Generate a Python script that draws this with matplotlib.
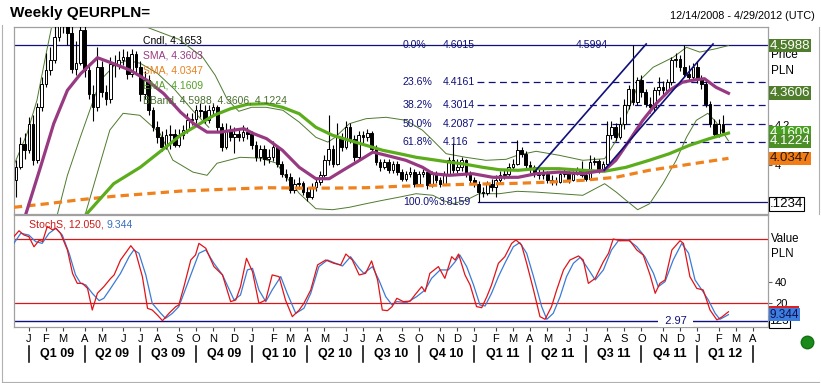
import numpy as np
import pandas as pd
import matplotlib
matplotlib.use('Agg')
import matplotlib.pyplot as plt
import matplotlib.transforms as mtransforms
from matplotlib.lines import Line2D
from matplotlib.patches import Rectangle

plt.rcParams['font.family'] = ['Liberation Sans', 'DejaVu Sans']

W, H = 821, 383
start = pd.Timestamp('2008-12-14')   # first weekly bar

# weekly closes / highs / lows (EUR/PLN)
close = [3.99, 4.108, 4.075, 4.208, 4.025, 4.29, 4.408, 4.475, 4.525, 4.64,
         4.70, 4.72, 4.66, 4.483, 4.51, 4.675, 4.475, 4.358, 4.29, 4.49,
         4.366, 4.33, 4.508, 4.50, 4.525, 4.54, 4.458, 4.558, 4.49, 4.358,
         4.425, 4.275, 4.19, 4.14, 4.09, 4.15, 4.158, 4.10, 4.15, 4.175,
         4.225, 4.23, 4.275, 4.27, 4.225, 4.275, 4.29, 4.19, 4.09, 4.175,
         4.14, 4.158, 4.14, 4.166, 4.158, 4.10, 4.04, 4.083, 4.033, 4.04,
         4.09, 4.008, 3.958, 3.94, 3.875, 3.908, 3.91, 3.866, 3.84, 3.89,
         3.916, 3.95, 4.025, 4.083, 4.008, 4.14, 4.09, 4.19, 4.13, 4.04,
         4.15, 4.14, 4.16, 4.083, 4.016, 3.99, 4.016, 3.975, 4.008, 3.966,
         3.933, 3.958, 3.966, 3.908, 3.958, 3.966, 3.90, 3.958, 3.925, 3.908,
         3.958, 4.025, 3.975, 3.99, 4.025, 3.958, 3.925, 3.908, 3.866, 3.86,
         3.908, 3.89, 3.925, 3.95, 3.958, 3.99, 4.008, 4.075, 4.058, 4.0,
         3.99, 3.958, 3.95, 3.958, 3.925, 3.92, 3.916, 3.958, 3.96, 3.925,
         3.958, 3.975, 3.95, 3.933, 4.016, 4.02, 3.975, 4.008, 4.15, 4.19,
         4.14, 4.208, 4.30, 4.383, 4.316, 4.425, 4.366, 4.308, 4.29, 4.375,
         4.39, 4.375, 4.416, 4.525, 4.533, 4.49, 4.458, 4.44, 4.49, 4.433,
         4.408, 4.308, 4.208, 4.158, 4.208, 4.1653]
high = [4.025, 4.14, 4.16, 4.24, 4.25, 4.31, 4.44, 4.56, 4.59, 4.75,
        4.80, 4.90, 4.78, 4.70, 4.62, 4.72, 4.70, 4.51, 4.40, 4.59,
        4.52, 4.40, 4.54, 4.55, 4.57, 4.58, 4.57, 4.58, 4.57, 4.52,
        4.47, 4.45, 4.29, 4.22, 4.17, 4.18, 4.20, 4.18, 4.18, 4.20,
        4.26, 4.26, 4.30, 4.31, 4.30, 4.30, 4.31, 4.30, 4.21, 4.21,
        4.20, 4.19, 4.18, 4.20, 4.19, 4.17, 4.12, 4.10, 4.10, 4.08,
        4.12, 4.10, 4.02, 3.98, 3.96, 3.93, 3.94, 3.92, 3.89, 3.91,
        3.94, 3.97, 4.05, 4.25, 4.10, 4.21, 4.16, 4.22, 4.21, 4.15,
        4.17, 4.17, 4.18, 4.17, 4.10, 4.03, 4.03, 4.03, 4.02, 4.02,
        3.98, 3.97, 3.99, 3.98, 3.97, 3.98, 3.98, 3.97, 3.97, 3.94,
        3.97, 4.04, 4.11, 4.03, 4.04, 4.03, 3.97, 3.94, 3.92, 3.89,
        3.92, 3.93, 3.95, 3.97, 3.98, 4.01, 4.03, 4.125, 4.09, 4.07,
        4.02, 4.0, 3.98, 3.98, 3.97, 3.95, 3.94, 3.97, 3.98, 3.97,
        3.97, 3.99, 4.02, 3.96, 4.05, 4.04, 4.03, 4.02, 4.22, 4.22,
        4.21, 4.24, 4.33, 4.40, 4.5994, 4.44, 4.45, 4.38, 4.34, 4.39,
        4.44, 4.42, 4.43, 4.54, 4.56, 4.55, 4.6015, 4.50, 4.51, 4.52,
        4.45, 4.42, 4.32, 4.23, 4.23, 4.25]
low = [3.84, 3.98, 4.03, 4.06, 4.0, 4.01, 4.27, 4.39, 4.45, 4.51,
       4.62, 4.66, 4.60, 4.46, 4.45, 4.50, 4.44, 4.33, 4.22, 4.27,
       4.34, 4.30, 4.31, 4.44, 4.48, 4.50, 4.43, 4.44, 4.46, 4.32,
       4.33, 4.25, 4.17, 4.11, 4.07, 4.08, 4.08, 4.09, 4.09, 4.13,
       4.16, 4.20, 4.21, 4.24, 4.21, 4.21, 4.25, 4.17, 4.07, 4.08,
       4.12, 4.06, 4.12, 4.12, 4.13, 4.08, 4.02, 4.02, 4.00, 4.01,
       4.02, 3.99, 3.94, 3.92, 3.86, 3.86, 3.88, 3.85, 3.82, 3.83,
       3.87, 3.90, 3.94, 4.00, 3.99, 4.00, 4.07, 4.08, 4.11, 4.02,
       4.03, 4.11, 4.12, 4.07, 4.00, 3.97, 3.98, 3.96, 3.96, 3.95,
       3.92, 3.92, 3.94, 3.89, 3.90, 3.94, 3.88, 3.89, 3.91, 3.89,
       3.90, 3.95, 3.96, 3.96, 3.97, 3.94, 3.91, 3.89, 3.8159, 3.84,
       3.85, 3.87, 3.84, 3.91, 3.93, 3.94, 3.98, 4.00, 4.04, 3.98,
       3.96, 3.94, 3.93, 3.93, 3.91, 3.90, 3.90, 3.91, 3.94, 3.91,
       3.92, 3.95, 3.94, 3.92, 3.93, 4.0, 3.96, 3.97, 4.0, 4.13,
       4.12, 4.13, 4.18, 4.28, 4.30, 4.30, 4.34, 4.29, 4.26, 4.27,
       4.35, 4.35, 4.36, 4.40, 4.49, 4.47, 4.44, 4.42, 4.43, 4.41,
       4.38, 4.29, 4.19, 4.14, 4.14, 4.15]

# indicator lines (week index, value)
sma_x = [-0.5, 2.2, 5.7, 8.8, 12, 15.1, 19, 22.8, 26.7, 30.6, 34.5, 38.4, 41.5, 44.6,
         47.7, 53.2, 55.5, 58.5, 62.2, 66.1, 70, 73.1, 76.3, 80.2, 83.3, 86.4, 91,
         94.9, 97.3, 101.1, 106.6, 111.3, 117.2, 121.4, 126.8, 132.3, 137.3, 140,
         143.2, 146.3, 149.4, 152.5, 155.6, 158.7, 160.7, 163.4, 166.3]
sma_y = [3.56, 3.75, 3.99, 4.208, 4.375, 4.458, 4.538, 4.508, 4.475, 4.425, 4.358,
         4.266, 4.208, 4.166, 4.166, 4.183, 4.158, 4.133, 4.075, 3.99, 3.933, 3.933,
         3.975, 4.025, 4.066, 4.05, 4.025, 3.99, 3.958, 3.95, 3.958, 3.94, 3.94,
         3.958, 3.966, 3.958, 3.975, 4.025, 4.125, 4.225, 4.308, 4.375, 4.416,
         4.428, 4.433, 4.39, 4.3603]
ema_x = [14, 16.2, 22.8, 29, 34.5, 38.4, 42.3, 46.2, 50.1, 54, 58.5, 62.2, 66.1, 70,
         73.9, 77.8, 81.7, 85.6, 89.5, 93.4, 97.3, 101.1, 105, 108.9, 112.8, 117.2,
         121.4, 126.8, 132.3, 137.3, 142.4, 147.8, 152.5, 157.2, 161.8, 166.3]
ema_y = [3.70, 3.75, 3.908, 3.99, 4.083, 4.15, 4.2, 4.25, 4.283, 4.305, 4.308, 4.29,
         4.258, 4.19, 4.15, 4.125, 4.1, 4.075, 4.058, 4.04, 4.028, 4.016, 4.005,
         3.99, 3.978, 3.975, 3.983, 3.983, 3.975, 3.97, 3.99, 4.025, 4.058, 4.1,
         4.133, 4.1609]
sma_long_x = [-0.5, 7.3, 15, 22.8, 30.6, 38.4, 46.2, 58.6, 66, 73.9, 81.7, 89.5, 97.3,
              105, 112.8, 117, 124.5, 132.3, 140, 147.8, 155.6, 166.3]
sma_long_y = [3.79, 3.808, 3.828, 3.845, 3.858, 3.871, 3.878, 3.888, 3.886, 3.886,
              3.888, 3.895, 3.9, 3.905, 3.908, 3.91, 3.916, 3.925, 3.94, 3.975, 4.0,
              4.0347]
bb_up_x = [-0.5, 2.6, 4.9, 7.2, 8.3, 12, 20, 28, 30.6, 38, 43.6, 46.5, 49.3, 52, 55,
           58.4, 62.3, 66.1, 70, 72.8, 74.5, 77.8, 81.7, 86.4, 91, 94.9, 97.3, 100.4,
           105, 109.7, 114.4, 117, 121.4, 126.8, 132.3, 137.4, 140.1, 143.2, 145.6,
           148.7, 153.4, 156.5, 159.6, 163.4, 166.3]
bb_up_y = [4.0, 4.16, 4.326, 4.576, 4.69, 4.95, 5.0, 4.8, 4.69, 4.63, 4.54, 4.45,
           4.33, 4.27, 4.29, 4.29, 4.275, 4.216, 4.14, 4.116, 4.14, 4.208, 4.233,
           4.24, 4.225, 4.175, 4.125, 4.058, 4.04, 4.025, 4.03, 4.05, 4.07, 4.05,
           4.025, 4.033, 4.125, 4.29, 4.425, 4.49, 4.54, 4.59, 4.566, 4.583, 4.5988]
bb_mid_x = [8, 9.6, 12, 15, 19.7, 23, 26, 29, 33, 37, 41, 45]
bb_mid_y = [3.62, 3.75, 3.95, 4.14, 4.425, 4.50, 4.525, 4.51, 4.46, 4.38, 4.28, 4.19]
bb_lo_x = [12, 16.1, 21.9, 25, 28.9, 33.6, 36.6, 41.3, 44.6, 46.9, 52.3, 57, 60.9,
           62.3, 64.7, 66.1, 70, 73.9, 77.8, 81.7, 85.6, 89.5, 93.4, 97.3, 99.6, 102,
           105, 108.1, 112.8, 117, 121.4, 126.8, 132.3, 137.4, 140.1, 142.4, 145.1,
           147.9, 151, 154.1, 156.5, 158.8, 161.5, 163.4, 166.3]
bb_lo_y = [3.50, 3.75, 4.176, 4.26, 4.25, 4.16, 4.026, 3.966, 3.95, 4.01, 4.04, 4.036,
           4.01, 3.96, 3.90, 3.86, 3.783, 3.778, 3.79, 3.808, 3.825, 3.841, 3.858,
           3.85, 3.825, 3.808, 3.825, 3.858, 3.858, 3.87, 3.866, 3.858, 3.85, 3.908,
           3.866, 3.825, 3.778, 3.808, 3.908, 4.025, 4.14, 4.225, 4.26, 4.216, 4.1224]

# fibonacci retracement and trend channel
fib_pct = ['0.0%', '23.6%', '38.2%', '50.0%', '61.8%', '100.0%']
fib_val = [4.6015, 4.4161, 4.3014, 4.2087, 4.116, 3.8159]
fib_txt = ['4.6015', '4.4161', '4.3014', '4.2087', '4.116', '3.8159']
fib_start = 107.5
trend1_x, trend1_y = [121.4, 147.1], [3.9765, 4.6065]
trend2_x, trend2_y = [137.3, 162.7], [3.9765, 4.6065]

# slow stochastic %K (red) and %D (blue)
k_x = [-0.5, 0.7, 1.9, 3.0, 4.2, 5.4, 6.2, 7.3, 8.5, 9.3, 10.4, 12, 13.2, 14.3, 15.5,
       16.7, 17.8, 19, 20.5, 22.1, 22.9, 24.4, 26.8, 27.9, 29.5, 30.7, 31.8, 33, 34.2,
       35.7, 37.3, 38, 39.2, 40.8, 41.9, 42.7, 44.3, 46.2, 48.2, 50.1, 51.3, 52.4,
       53.8, 55.2, 56.7, 58.3, 59.8, 61.4, 62.9, 64.5, 66.1, 67.2, 68.8, 70.4, 72.3,
       74.2, 75.8, 77, 78.5, 80.1, 81.6, 83, 84.4, 85.5, 86.7, 87.8, 88.9, 90.4, 92,
       93.1, 94.7, 95.5, 96.6, 98.6, 100.1, 101.7, 102.5, 103.3, 104.8, 106, 107.5,
       108.7, 109.9, 111, 112.6, 114.1, 115.7, 116.7, 118, 119.2, 120.8, 122.3, 123.5,
       125, 126.2, 127.8, 129.3, 131.3, 132.4, 133.6, 135.2, 137.1, 138.3, 139.4, 141,
       143.3, 144.9, 146.4, 148, 149.2, 150.3, 151.5, 153.1, 155, 155.8, 157.3, 158.9,
       160.4, 162, 163.6, 164.7, 166.3]
k_y = [82.5, 88, 84, 82.5, 73, 79, 78, 92, 89, 90.3, 85.6, 70, 48, 38.7, 38.7, 34,
       13.7, 29.4, 35.6, 43.4, 46.6, 60.6, 74, 68.4, 45, 15.3, 13.7, 9, 3.7, 10.6,
       16.9, 18.4, 35.6, 60.6, 65.3, 76.2, 71.6, 54.4, 46.6, 21.6, 23.1, 35.6, 62.2,
       49.7, 20, 23.1, 46.6, 45, 23.1, 7.5, 13.7, 20, 32.5, 56, 60.6, 57.5, 56, 66.2,
       60.6, 46.6, 48.1, 59.7, 41.9, 13.7, 13.1, 16.9, 24.7, 21.6, 22, 27.8, 35.6,
       30.9, 48.1, 54.4, 43.4, 63.7, 60.6, 66.2, 46.6, 37.2, 16.9, 15.9, 26.2, 37.2,
       57.5, 63.7, 76.2, 79.4, 74.7, 57.5, 32.5, 7.5, 5, 16.9, 32.5, 51.3, 60.6, 64.4,
       60.6, 38.7, 43.4, 59, 66.9, 80.3, 78.7, 78.7, 70, 65.3, 46.6, 29.4, 38.7, 41.9,
       70, 78.7, 76.2, 45, 34, 32.5, 13.7, 4.4, 7, 12.05]
d_x = [-0.5, 1.1, 3.0, 4.6, 6.1, 7.7, 9.3, 10.8, 12.4, 13.9, 15.1, 16.3, 17.8, 19.4,
       20.5, 22.1, 24.4, 26.4, 27.5, 28.7, 30.3, 31.8, 33.8, 34.9, 36.5, 38, 39.2,
       40.8, 42.7, 44.3, 46.2, 48.2, 50.9, 52.4, 54, 55.2, 56.7, 58.3, 59.8, 61.8,
       63.3, 65.3, 67.2, 68.8, 70.7, 72.7, 74.6, 76.2, 78.1, 80.1, 81.2, 83.2, 84.7,
       86.3, 87.8, 88.9, 91.2, 93.5, 95.5, 97, 99, 100.9, 102.5, 103.6, 105.2, 106.8,
       108.3, 109.5, 111, 112.6, 114.1, 116.1, 117.6, 119.2, 120.8, 122.7, 123.9,
       125.4, 127, 128.5, 130.1, 131.7, 133.2, 135.2, 137.1, 139, 140.6, 142.9, 144.9,
       146.8, 148.8, 149.9, 151.5, 153.4, 155.4, 157, 158.5, 160.1, 161.6, 163.2,
       164.3, 166.3]
d_y = [76.2, 85.6, 84, 77.8, 76.2, 85.6, 90.3, 84, 66.9, 46.6, 38.7, 37.2, 29.4,
       22.5, 24.7, 34.1, 48.1, 63.7, 70, 66.9, 46.6, 20, 10.6, 5.9, 10.6, 16.9, 29.4,
       46.6, 66.9, 70, 57.5, 46.6, 23.1, 27.8, 51.3, 52.8, 32.5, 21.6, 32.5, 45, 29.4,
       10.6, 15.3, 29.4, 54.4, 60.6, 57.5, 55, 63.7, 52.8, 48.1, 54.4, 41.9, 26.2,
       18.4, 21.6, 20.6, 26.2, 32.5, 43.4, 51.3, 51.3, 59, 65.3, 54.4, 37.2, 18.4,
       17.5, 29.4, 45, 57.5, 73.1, 76.9, 66.9, 45, 16.9, 5, 10.6, 26.2, 45, 57.5,
       63.1, 54.4, 41.9, 51.3, 70, 78.7, 79.4, 73.1, 63.7, 48.1, 35.6, 40.3, 60.6,
       76.2, 66.9, 41.9, 32.5, 23.1, 10.6, 5, 9.344]

NAVY = '#10107a'
PURPLE = '#983a82'
ORANGE = '#f0821e'
GREEN = '#5cad1c'
OLIVE = '#4e7a2e'
GRID = '#a0a0a0'

fig = plt.figure(figsize=(W / 100, H / 100), dpi=100)


def px_axes(x0, y0, x1, y1):
    return fig.add_axes([x0 / W, 1 - y1 / H, (x1 - x0) / W, (y1 - y0) / H])


ax = px_axes(14, 27, 768, 214)
ax2 = px_axes(14, 215, 768, 327.3)
for a in (ax, ax2):
    a.set_xlim(-0.467, 175.53)
    for s in a.spines.values():
        s.set_color(GRID)
        s.set_linewidth(0.9)
ax.set_ylim(3.7565, 4.6915)
ax2.set_ylim(-2.5, 102.8)

# ---- price panel ----
idx = np.arange(len(close))
c = np.array(close)
o = np.array([3.925] + close[:-1])
up = c >= o
lo_b = np.minimum(o, c)
h_b = np.maximum(np.abs(c - o), 0.004)
ax.vlines(idx, low, high, color='black', lw=0.8, zorder=3)
ax.bar(idx[up], h_b[up], bottom=lo_b[up], width=0.62, facecolor='white',
       edgecolor='black', lw=0.7, zorder=4)
ax.bar(idx[~up], h_b[~up], bottom=lo_b[~up], width=0.62, facecolor='black',
       edgecolor='black', lw=0.7, zorder=4)

ax.plot(bb_up_x, bb_up_y, color=OLIVE, lw=0.7, zorder=2)
ax.plot(bb_mid_x, bb_mid_y, color=OLIVE, lw=0.7, zorder=2)
ax.plot(bb_lo_x, bb_lo_y, color=OLIVE, lw=0.7, zorder=2)
ax.plot(sma_long_x, sma_long_y, color=ORANGE, lw=2.3, ls=(0, (2.6, 1.6)), zorder=5)
ax.plot(ema_x, ema_y, color=GREEN, lw=2.3, zorder=6)
ax.plot(sma_x, sma_y, color=PURPLE, lw=2.3, zorder=7)

# fibonacci levels
for k, (pct, v, t) in enumerate(zip(fib_pct, fib_val, fib_txt)):
    last = k == len(fib_val) - 1
    if k == 0:
        ax.axhline(v, color=NAVY, lw=0.9, zorder=1)
    elif last:
        ax.plot([fib_start + 0.3, 176], [v, v], color=NAVY, lw=0.9, zorder=1)
    else:
        ax.plot([fib_start, 176], [v, v], color=NAVY, lw=0.9, ls=(0, (5.5, 3.5)), zorder=1)
    ax.text(90.3, v, pct, color=NAVY, fontsize=7.6, va='center', ha='left', zorder=8)
    ax.text(98.6 if last else 99.7, v, t, color=NAVY, fontsize=7.6,
            va='center', ha='left', zorder=8)
ax.text(130.7, 4.5994, '4.5994', color=NAVY, fontsize=7.6, va='center', ha='left', zorder=8)
ax.plot(trend1_x, trend1_y, color=NAVY, lw=1.2, zorder=8)
ax.plot(trend2_x, trend2_y, color=NAVY, lw=1.2, zorder=8)

# legend texts
leg = [('Cndl, 4.1653', 'black'), ('SMA, 4.3603', PURPLE), ('SMA, 4.0347', '#e8801e'),
       ('EMA, 4.1609', '#56a02a'), ('BBand, 4.5988, 4.3606, 4.1224', '#4a7030')]
for k, (s, col) in enumerate(leg):
    ax.text(0.171, 0.930 - k * 0.0802, s, transform=ax.transAxes, color=col,
            fontsize=7.5, va='center', ha='left', zorder=9)

# right price scale
ax.yaxis.tick_right()
ax.set_yticks([4.0, 4.2])
ax.set_yticklabels(['4', '4.2'])
ax.tick_params(axis='y', length=3, color='#606060', labelsize=8, pad=2)
ax.set_xticks([])
ax.text(1.004, 0.849, 'Price', transform=ax.transAxes, fontsize=8.5, va='center',
        ha='left', clip_on=False, zorder=3)
ax.text(1.004, 0.763, 'PLN', transform=ax.transAxes, fontsize=8.5, va='center',
        ha='left', clip_on=False, zorder=3)


def rlabel(axis, y, s, fc, tc, fs=9.5, ec='none', z=10):
    tr = mtransforms.blended_transform_factory(axis.transAxes, axis.transData)
    axis.text(1.002, y, s, transform=tr, ha='left', va='center', fontsize=fs,
              color=tc, clip_on=False, zorder=z,
              bbox=dict(boxstyle='square,pad=0.06', fc=fc, ec=ec, lw=0.8))


rlabel(ax, 4.5988, '4.5988', '#4f7d2c', 'white')
rlabel(ax, 4.3606, '4.3606', '#4f7d2c', 'white')
rlabel(ax, 4.1609, '4.1609', '#48a020', 'white')
rlabel(ax, 4.1224, '4.1224', '#4b8f26', 'white', z=11)
rlabel(ax, 4.0347, '4.0347', '#f27d16', '#2a1a0a', z=11)
rlabel(ax, 3.806, '.1234', 'white', 'black', ec='black')

# ---- stochastic panel ----
ax2.axhline(80, color='#d81818', lw=0.9)
ax2.axhline(20, color='#d81818', lw=0.9)
ax2.axhline(2.97, color=NAVY, lw=1.0)
ax2.text(154, 2.97, '  2.97  ', color=NAVY, fontsize=8, ha='center', va='center',
         bbox=dict(boxstyle='square,pad=0.05', fc='white', ec='none'), zorder=4)
ax2.plot(d_x, d_y, color='#3a7bd5', lw=0.9, zorder=5)
ax2.plot(k_x, k_y, color='#e01418', lw=0.9, zorder=6)
t1 = ax2.text(0.0199, 0.911, 'StochS, 12.050, ', transform=ax2.transAxes,
              color='#d01818', fontsize=7.6, va='center', ha='left', zorder=8)
ax2.annotate('9.344', xy=(1, 0.5), xycoords=t1, va='center', ha='left',
             color='#3a6fc0', fontsize=7.6, zorder=8)

ax2.yaxis.tick_right()
ax2.set_yticks([20, 40])
ax2.set_yticklabels(['20', '40'])
ax2.tick_params(axis='y', length=3, color='#606060', labelsize=8, pad=2)
ax2.text(1.004, 0.786, 'Value', transform=ax2.transAxes, fontsize=8.3, va='center',
         ha='left', clip_on=False)
ax2.text(1.004, 0.653, 'PLN', transform=ax2.transAxes, fontsize=8.3, va='center',
         ha='left', clip_on=False)
rlabel(ax2, 2.97, '123', 'white', 'black', fs=8.5, ec='black')
# red %K marker sits behind the blue %D box, only its top edge shows
tr2 = mtransforms.blended_transform_factory(ax2.transAxes, ax2.transData)
ax2.add_patch(Rectangle((1.0015, 12.05 - 5.6), 0.039, 11.2, transform=tr2,
                        fc='#e02020', ec='none', clip_on=False, zorder=11))
rlabel(ax2, 9.344, '9.344', '#3d7fe0', '#101050', fs=8.5, z=12)

# month and quarter axis
months = pd.date_range('2009-01-01', '2012-04-01', freq='MS')
mpos = [int(np.ceil((m - start).days / 7)) for m in months]
ax2.set_xticks(mpos)
ax2.set_xticklabels([m.strftime('%b')[0] for m in months])
ax2.tick_params(axis='x', length=3, color='#404040', labelsize=8, pad=1.5)

trx = mtransforms.blended_transform_factory(ax2.transData, ax2.transAxes)
qpos = [p for p, m in zip(mpos, months) if m.month in (1, 4, 7, 10)]
qmon = [m for m in months if m.month in (1, 4, 7, 10)]
for p in qpos:
    ax2.plot([p, p], [-0.166, -0.309], transform=trx, color='black', lw=1.1,
             clip_on=False)
for p0, p1, m in zip(qpos[:-1], qpos[1:], qmon[:-1]):
    ax2.text((p0 + p1) / 2, -0.238, 'Q%d %s' % ((m.month - 1) // 3 + 1, m.strftime('%y')),
             transform=trx, ha='center', va='center', fontsize=9, fontweight='bold',
             clip_on=False)

# header
fig.text(10 / W, 1 - 13 / H, 'Weekly QEURPLN=', fontsize=11, fontweight='bold',
         va='center', ha='left')
fig.text(815 / W, 1 - 16 / H, '12/14/2008 - 4/29/2012 (UTC)', fontsize=7.8,
         va='center', ha='right')

# frame and status dot
fig.add_artist(Line2D([1.5 / W, 1.5 / W], [1 - 25 / H, 1 - 381.5 / H], color='#b0b0b0', lw=0.8))
fig.add_artist(Line2D([1.5 / W, 819 / W], [1 - 381.5 / H, 1 - 381.5 / H], color='#b0b0b0', lw=0.8))
fig.add_artist(Line2D([818.5 / W, 818.5 / W], [1 - 27 / H, 1 - 214 / H], color='#b0b0b0', lw=0.8))
fig.add_artist(Line2D([807 / W], [1 - 342 / H], marker='o', markersize=9,
                      color='#1a8a1a', markeredgecolor='#147014'))

fig.savefig('out.png', dpi=100)
